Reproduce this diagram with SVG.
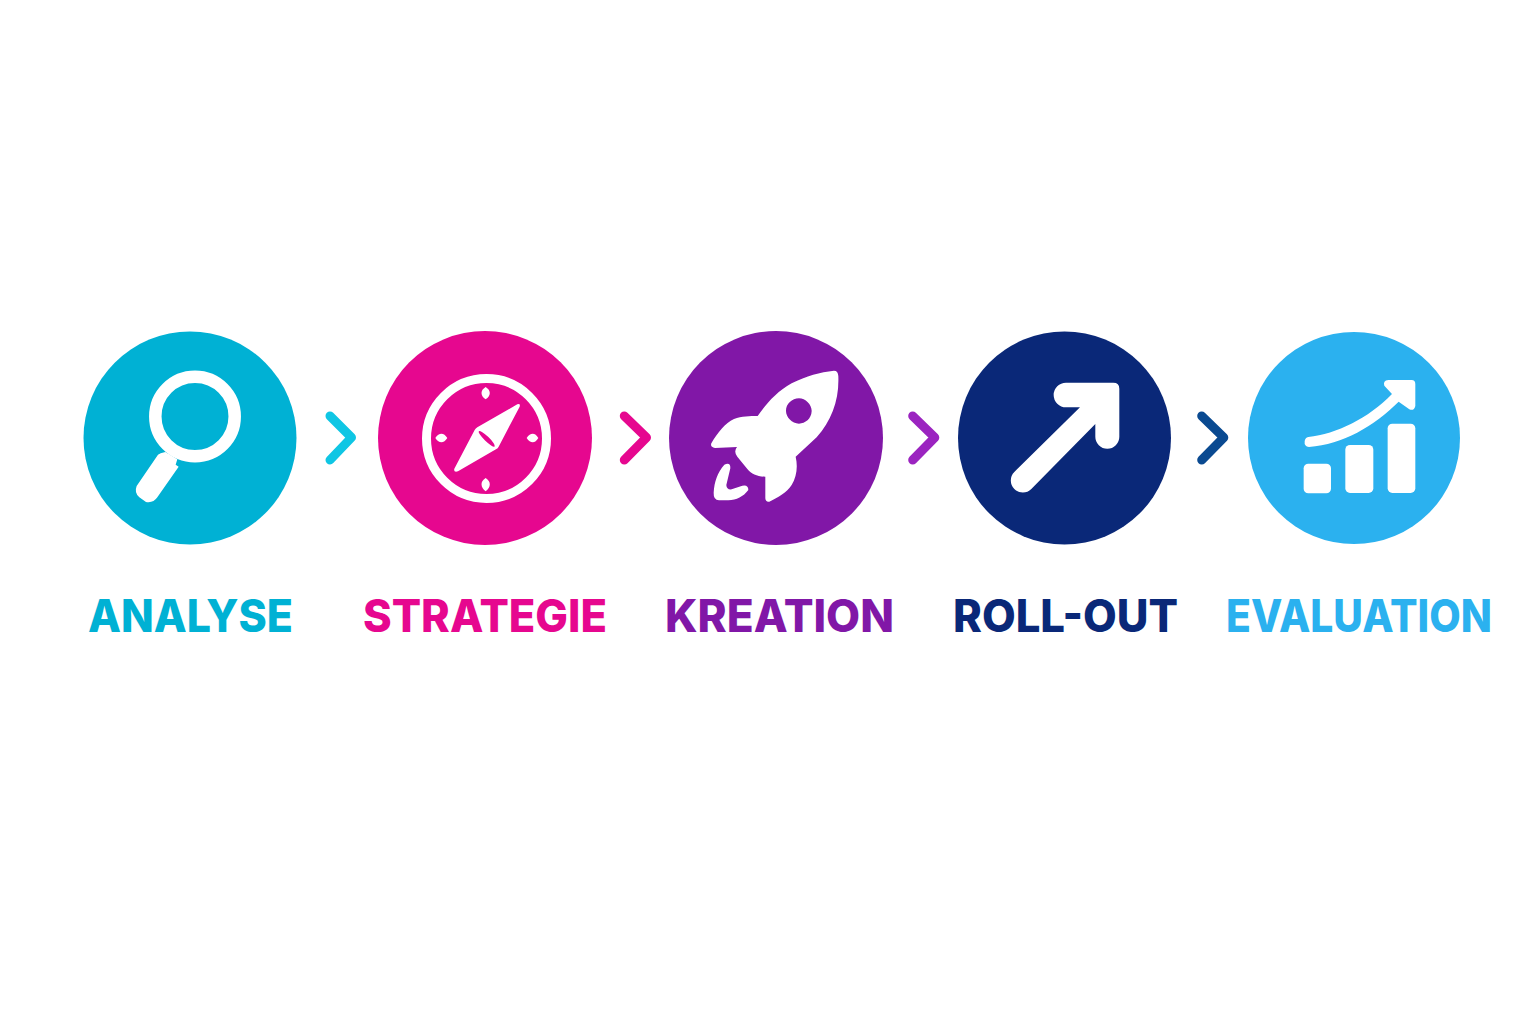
<svg xmlns="http://www.w3.org/2000/svg" width="1536" height="1024" viewBox="0 0 1536 1024">
<style>
.w{fill:#fff}
.lbl{font-family:Inter,"Liberation Sans",sans-serif;font-weight:800;font-size:45px}
.chev{fill:none;stroke-width:9;stroke-linecap:round;stroke-linejoin:round}
</style>
<rect width="1536" height="1024" fill="#fff"/>
<g id="connectors">
<path class="chev" stroke="#0fc6e4" d="M330 416L351.5 437.5L330 460"/>
<path class="chev" stroke="#e6078f" d="M624.3 416L646.5 437.5L624.3 460"/>
<path class="chev" stroke="#9b24c0" d="M912.7 416L934.8 437.5L912.7 460"/>
<path class="chev" stroke="#0a4a91" d="M1201.7 416L1223.8 437.5L1201.7 460"/>
</g>
<g id="analyse">
<circle cx="190" cy="438" r="106.5" fill="#00b1d4"/>
<circle cx="195" cy="416.5" r="39.7" fill="none" stroke="#fff" stroke-width="12.5"/>
<path class="w" transform="translate(70 320) scale(.3333)" d="M264 404L272 400L286 396L322 418L317 434L326 440L262 532Q250 550 228 546L208 532Q192 518 200 498Z"/>
<text class="lbl" x="88" y="631.5" textLength="205" lengthAdjust="spacingAndGlyphs" fill="#00b1d4">ANALYSE</text>
</g>
<g id="strategie">
<circle cx="485" cy="438" r="107" fill="#e6078f"/>
<circle cx="486.5" cy="438.5" r="60" fill="none" stroke="#fff" stroke-width="9"/>
<g class="w" transform="translate(370 320) scale(.3333)">
<path d="M347 201C365 212 362 228 347 238C332 228 329 212 347 201ZM347 474C365 485 362 503 347 514C332 503 329 485 347 474ZM196 354C208 336 222 338 232 354C222 370 208 372 196 354ZM470 354C482 336 496 338 505 354C496 370 482 372 470 354Z"/>
<path d="M442 253Q452 250 449 260L386 380Q384 385 378 388L264 454Q250 458 253 446L314 330Q317 325 322 322Z"/>
</g>
<ellipse cx="486.7" cy="438.8" rx="11" ry="2.4" transform="rotate(44 486.7 438.8)" fill="#e6078f"/>
<text class="lbl" x="363" y="631.5" textLength="244" lengthAdjust="spacingAndGlyphs" fill="#e6078f">STRATEGIE</text>
</g>
<g id="kreation">
<circle cx="776" cy="438" r="107" fill="#8117a7"/>
<g class="w" transform="translate(660 320) scale(.3333)">
<path fill-rule="evenodd" d="M522 152Q534 152 535 168C538 240 515 300 470 352L407 410C414 440 410 470 395 495C380 518 355 532 328 545Q317 547 316 535L316 470C292 470 275 462 262 447L232 410Q220 395 231 381L165 384Q150 382 154 370C175 335 195 310 222 297C245 288 270 288 293 288C320 250 350 215 395 190C440 168 480 156 522 152ZM417 235C437 235 456 255 455 274C454 296 436 311 417 311C396 310 378 292 378 272C378 252 396 235 417 235Z"/>
<path d="M193 434Q212 426 211 445L199 495Q200 510 215 508L247 497Q265 493 265 510C250 530 230 540 205 541L177 541Q160 540 161 518C163 485 172 458 193 434Z"/>
</g>
<text class="lbl" x="665" y="631.5" textLength="229" lengthAdjust="spacingAndGlyphs" fill="#8117a7">KREATION</text>
</g>
<g id="roll-out">
<circle cx="1064.5" cy="438" r="106.5" fill="#0a2878"/>
<path class="w" transform="translate(950 320) scale(.3333)" d="M348 188L490 188Q508 188 508 206L508 350A36 36 0 0 1 436 350L436 312L244 507A36 36 0 0 1 193 456L390 262L348 262A37 37 0 0 1 348 188Z"/>
<text class="lbl" x="953" y="631.5" textLength="225" lengthAdjust="spacingAndGlyphs" fill="#0a2878">ROLL-OUT</text>
</g>
<g id="evaluation">
<circle cx="1354" cy="438" r="106" fill="#2bb1ef"/>
<g class="w" transform="translate(1240 320) scale(.3333)">
<rect x="191" y="431" width="82" height="89" rx="14"/>
<rect x="316" y="375" width="84" height="144" rx="14"/>
<rect x="443" y="311" width="83" height="208" rx="14"/>
<path d="M205 351C290 342 385 295 456 222L433 197Q428 182 445 180L515 180Q526 180 526 192L526 258Q522 274 508 268L476 245C400 320 310 372 207 381Q192 380 194 364Q195 353 205 351Z"/>
</g>
<text class="lbl" x="1226" y="631.5" textLength="266" lengthAdjust="spacingAndGlyphs" fill="#2bb1ef">EVALUATION</text>
</g>
</svg>
